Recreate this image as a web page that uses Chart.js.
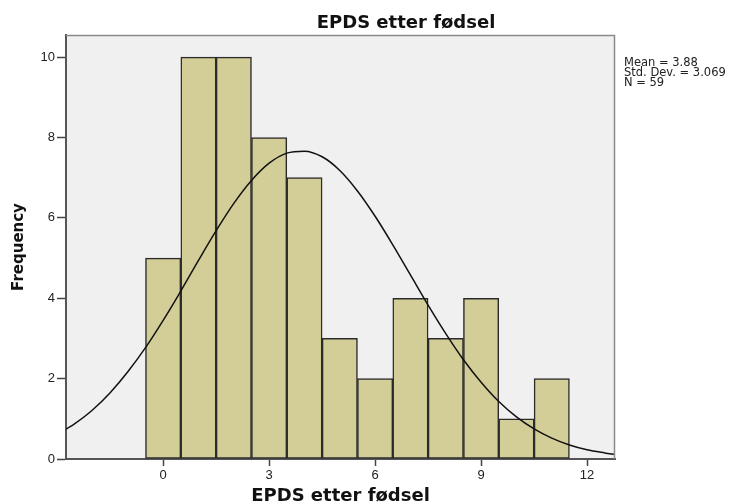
<!DOCTYPE html>
<html lang="no">
<head>
<meta charset="UTF-8">
<title>EPDS etter fødsel</title>
<script src="https://cdn.jsdelivr.net/npm/chart.js"></script>
<style>
  body { margin: 0; background: #fff; }
  .wrap { width: 735px; height: 504px; position: relative; }
</style>
</head>
<body>
<div class="wrap"><canvas id="hist"></canvas></div>
<script>
// histogram bins (score) and counts
const binScores = [0, 1, 2, 3, 4, 5, 6, 7, 8, 9, 10, 11];
const binCounts = [5, 10, 10, 8, 7, 3, 2, 4, 3, 4, 1, 2];

// normal curve
const curveX = [-2.75, -2.5, -2, -1.5, -1, -0.5, 0, 0.5, 1, 1.5, 2, 2.5, 3, 3.5, 4, 4.5,
                5, 5.5, 6, 6.5, 7, 7.5, 8, 8.5, 9, 9.5, 10, 10.5, 11, 11.5, 12, 12.5, 12.79];
const curveY = [0.74, 0.88, 1.22, 1.65, 2.17, 2.77, 3.45, 4.18, 4.94, 5.68, 6.36, 6.93, 7.36, 7.61, 7.66, 7.52,
                7.18, 6.67, 6.04, 5.33, 4.58, 3.83, 3.12, 2.47, 1.91, 1.43, 1.05, 0.75, 0.52, 0.35, 0.23, 0.15, 0.11];

const xTicks = [0, 3, 6, 9, 12];
const yTicks = [0, 2, 4, 6, 8, 10];

const chartTitle = 'EPDS etter fødsel';
const xTitle = 'EPDS etter fødsel';
const yTitle = 'Frequency';
const statLines = ['Mean = 3.88', 'Std. Dev. = 3.069', 'N = 59'];

const tickFont = { family: "'Liberation Sans', Arial, sans-serif", size: 13 };

// grey plot background, frame, title and the stats box
const spssDecor = {
  id: 'spssDecor',
  beforeDraw(chart) {
    const { ctx, chartArea: a } = chart;
    ctx.save();
    ctx.fillStyle = '#f0f0f0';
    ctx.fillRect(a.left, a.top, a.right - a.left, a.bottom - a.top);
    ctx.restore();
  },
  afterDraw(chart) {
    const { ctx, chartArea: a } = chart;
    ctx.save();
    ctx.strokeStyle = '#8a8a8a';
    ctx.lineWidth = 1.5;
    ctx.beginPath();
    ctx.moveTo(a.left, a.top + 0.5);
    ctx.lineTo(a.right - 0.5, a.top + 0.5);
    ctx.lineTo(a.right - 0.5, a.bottom);
    ctx.stroke();

    ctx.fillStyle = '#111';
    ctx.textBaseline = 'alphabetic';
    ctx.textAlign = 'center';
    ctx.font = "bold 18px 'DejaVu Sans', sans-serif";
    ctx.fillText(chartTitle, 406, 28);

    ctx.textAlign = 'left';
    ctx.fillStyle = '#222';
    ctx.font = "11.5px 'DejaVu Sans', sans-serif";
    statLines.forEach((t, i) => ctx.fillText(t, a.right + 9, 65.5 + i * 10));
    ctx.restore();
  }
};

const ctx = document.getElementById('hist').getContext('2d');
new Chart(ctx, {
  type: 'bar',
  data: {
    datasets: [{
      type: 'line',
      data: curveX.map((x, i) => ({ x: x, y: curveY[i] })),
      borderColor: '#111',
      borderWidth: 1.5,
      pointRadius: 0,
      fill: false,
      cubicInterpolationMode: 'monotone',
      order: 0
    }, {
      type: 'bar',
      data: binScores.map((x, i) => ({ x: x, y: binCounts[i] })),
      backgroundColor: '#d3ce97',
      borderColor: '#2b2b2b',
      borderWidth: 1.5,
      borderSkipped: false,
      barPercentage: 1,
      categoryPercentage: 1,
      order: 1
    }]
  },
  options: {
    responsive: true,
    maintainAspectRatio: false,
    animation: false,
    layout: { padding: { top: 35, right: 120, left: 0, bottom: 0 } },
    plugins: {
      legend: { display: false },
      tooltip: { enabled: false },
      title: { display: false }
    },
    scales: {
      x: {
        type: 'linear',
        min: -2.75,
        max: 12.79,
        offset: false,
        z: 1,
        afterFit(scale) { scale.height = 45; },
        afterBuildTicks(scale) { scale.ticks = xTicks.map(v => ({ value: v })); },
        grid: { offset: false, drawOnChartArea: false, drawTicks: true, tickLength: 7, tickColor: '#444', tickWidth: 1.5 },
        border: { display: true, color: '#555', width: 2 },
        ticks: { font: tickFont, color: '#222', padding: 2, maxRotation: 0 },
        title: {
          display: true,
          text: xTitle,
          color: '#111',
          font: { family: "'DejaVu Sans', sans-serif", size: 18, weight: 'bold', lineHeight: 0.8 },
          padding: { top: 0, bottom: 0 }
        }
      },
      y: {
        min: 0,
        max: 10.55,
        z: 1,
        afterFit(scale) { scale.width = 66; },
        afterBuildTicks(scale) { scale.ticks = yTicks.map(v => ({ value: v })); },
        grid: { drawOnChartArea: false, drawTicks: true, tickLength: 9, tickColor: '#444', tickWidth: 1.5 },
        border: { display: true, color: '#555', width: 2 },
        ticks: { font: tickFont, color: '#222', padding: 2 },
        title: {
          display: true,
          text: yTitle,
          color: '#111',
          font: { family: "'DejaVu Sans', sans-serif", size: 15, weight: 'bold' },
          padding: { top: 10, bottom: 0 }
        }
      }
    }
  },
  plugins: [spssDecor]
});
</script>
</body>
</html>
